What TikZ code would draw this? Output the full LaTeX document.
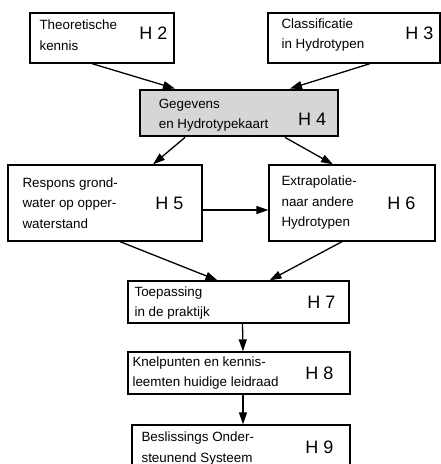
\documentclass[tikz,border=0pt]{standalone}
\usepackage{fontspec}
\setmainfont{Liberation Sans}
\usetikzlibrary{arrows.meta}
\tikzstyle{box}=[draw,rectangle,line width=1.3pt,fill=white,inner sep=0pt]
\tikzstyle{data-box}=[draw,rectangle,line width=2.8pt,fill=black!16,inner sep=0pt]
\tikzstyle{desc}=[inner sep=0pt,align=left,anchor=west,font=\fontsize{13.4}{20.5}\selectfont]
\tikzstyle{chap}=[inner sep=0pt,anchor=east,font=\fontsize{18}{20}\selectfont]
\tikzstyle{flow}=[line width=1.3pt,-{Triangle[length=12pt,width=8pt]}]

\begin{document}
\begin{tikzpicture}[x=1pt,y=-1pt]
        \useasboundingbox (0,0) rectangle (441,464);
        \begin{scope}
            \node[box,minimum width=144pt,minimum height=50pt] at (102,38) (h2) {};
            \node[desc] at ([xshift=10pt,yshift=3pt]h2.west) (t2) {Theoretische\\kennis};
            \node[chap] at ([xshift=-7pt,yshift=5pt]h2.east) (c2) {H 2};
            \node[box,minimum width=172pt,minimum height=50pt] at (354,38) (h3) {};
            \node[desc] at ([xshift=14pt,yshift=3pt]h3.west) (t3) {Classificatie\\in Hydrotypen};
            \node[chap] at ([xshift=-7pt,yshift=5pt]h3.east) (c3) {H 3};
            \node[data-box,minimum width=198pt,minimum height=46pt] at (239,113) (h4) {};
            \node[desc] at ([xshift=20pt,yshift=-2pt]h4.west) (t4) {Gegevens\\en Hydrotypekaart};
            \node[chap] at ([xshift=-13pt,yshift=-6pt]h4.east) (c4) {H 4};
            \node[box,minimum width=194pt,minimum height=76pt] at (105,203) (h5) {};
            \node[desc] at ([xshift=15pt]h5.west) (t5) {Respons grond-\\water op opper-\\waterstand};
            \node[chap] at ([xshift=-19pt]h5.east) (c5) {H 5};
            \node[box,minimum width=166pt,minimum height=76pt] at (352,203) (h6) {};
            \node[desc] at ([xshift=13pt]h6.west) (t6) {Extrapolatie-\\naar andere\\Hydrotypen};
            \node[chap] at ([xshift=-20pt]h6.east) (c6) {H 6};
            \node[box,minimum width=221pt,minimum height=42pt] at (238.5,302) (h7) {};
            \node[desc] at ([xshift=7pt,yshift=-1pt]h7.west) (t7) {Toepassing\\in de praktijk};
            \node[chap] at ([xshift=-14pt]h7.east) (c7) {H 7};
            \node[box,minimum width=222pt,minimum height=42pt] at (239,373) (h8) {};
            \node[desc] at ([xshift=5pt]h8.west) (t8) {Knelpunten en kennis-\\leemten huidige leidraad};
            \node[chap] at ([xshift=-17pt]h8.east) (c8) {H 8};
            \node[box,minimum width=218pt,minimum height=45pt] at (241,447.5) (h9) {};
            \node[desc] at ([xshift=10pt,yshift=-1pt]h9.west) (t9) {Beslissings Onder-\\steunend Systeem};
            \node[chap] at ([xshift=-17pt]h9.east) (c9) {H 9};

            \foreach \a/\sa/\b/\sb in {h2/-10/h4/-64, h3/16/h4/51, h4/-54/h5/48, h4/46/h6/-19,
                                       h5/15/h7/-21, h6/-10/h7/31, h7/4/h8/4, h8/4/h9/2}
                \draw[flow] ([xshift=\sa pt]\a.south) -- ([xshift=\sb pt]\b.north);
            \draw[flow] ([yshift=-7pt]h5.east) -- ([yshift=-7pt]h6.west);
        \end{scope}
    \end{tikzpicture}
\end{document}
